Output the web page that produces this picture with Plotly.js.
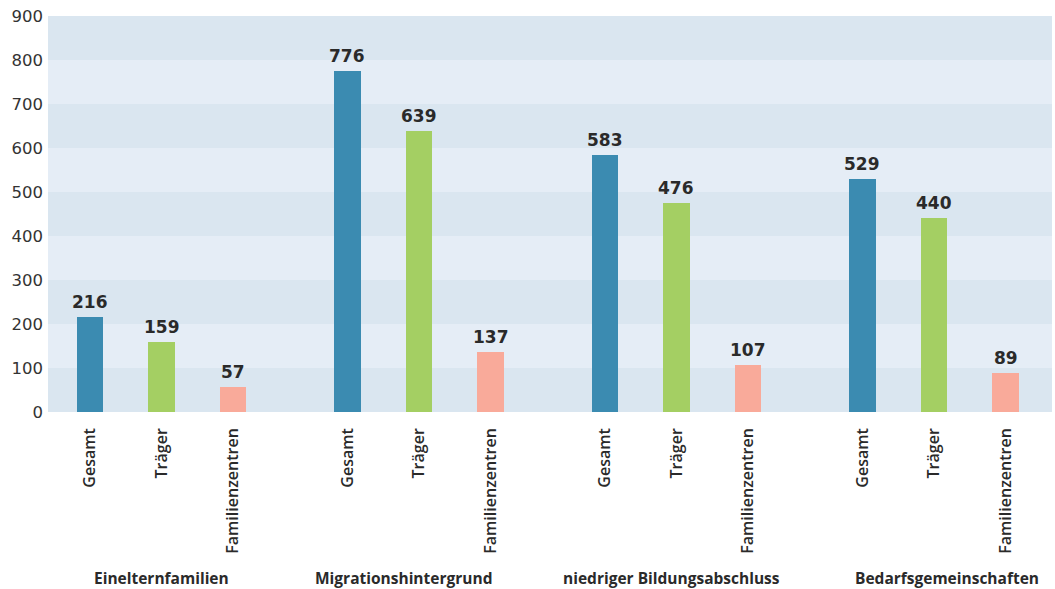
<!DOCTYPE html>
<html>
<head>
<meta charset="utf-8">
<script src="https://cdn.plot.ly/plotly-3.0.1.min.js"></script>
<style>html,body{margin:0;padding:0;background:#fff;}#chart{width:1055px;height:589px;}</style>
</head>
<body>
<div id="chart"></div>
<script>
const groups = ['Einelternfamilien', 'Migrationshintergrund', 'niedriger Bildungsabschluss', 'Bedarfsgemeinschaften'];
const seriesNames = ['Gesamt', 'Träger', 'Familienzentren'];
const gesamt = [216, 776, 583, 529];
const traeger = [159, 639, 476, 440];
const familienzentren = [57, 137, 107, 89];
const yTicks = [0, 100, 200, 300, 400, 500, 600, 700, 800, 900];

// layout-only tweaks (pixel offsets of the group labels)
const groupLabelShift = [0, -16, -5, 13];

const seriesValues = [gesamt, traeger, familienzentren];
const colors = ['#3b8bb1', '#a4cf63', '#f9aa9a'];
const groupStep = 3.6;
const FONT = 'Open Sans, Noto Sans, sans-serif';
const NUMFONT = 'DejaVu Sans, sans-serif';

const traces = [];
const annotations = [];
const tickvals = [];
const ticktext = [];
seriesValues.forEach((vals, s) => {
  const xs = groups.map((g, gi) => gi * groupStep + s);
  traces.push({
    type: 'bar', x: xs, y: vals, width: 0.365,
    marker: {color: colors[s]}, name: seriesNames[s], hoverinfo: 'skip'
  });
  xs.forEach((x, i) => {
    tickvals.push(x); ticktext.push(seriesNames[s]);
    annotations.push({
      x: x, y: vals[i], xref: 'x', yref: 'y', text: String(vals[i]),
      showarrow: false, yanchor: 'bottom', yshift: 3,
      font: {family: NUMFONT, size: 17, color: '#2a2a2a', weight: 700}
    });
  });
});
groups.forEach((g, gi) => {
  annotations.push({
    x: gi * groupStep + 1, y: 0, xref: 'x', yref: 'paper', yanchor: 'middle',
    yshift: -166, xshift: groupLabelShift[gi], text: g, showarrow: false,
    font: {family: FONT, size: 15.5, color: '#2a2a2a', weight: 700}
  });
});

const shapes = [];
for (let i = 0; i < yTicks.length - 1; i++) {
  shapes.push({
    type: 'rect', xref: 'paper', yref: 'y', x0: 0, x1: 1,
    y0: yTicks[i], y1: yTicks[i + 1], layer: 'below', line: {width: 0},
    fillcolor: i % 2 === 0 ? '#dae6f0' : '#e5edf6'
  });
}

const layout = {
  width: 1055, height: 589,
  margin: {l: 48, r: 3, t: 16, b: 177},
  paper_bgcolor: '#ffffff', plot_bgcolor: '#e5edf6',
  showlegend: false, bargap: 0,
  xaxis: {
    range: [-0.587, 13.45], tickvals: tickvals, ticktext: ticktext,
    tickangle: -90, showgrid: false, zeroline: false, showline: false,
    ticks: '', ticklabelstandoff: 12,
    tickfont: {family: FONT, size: 16, color: '#2a2a2a', weight: 600}
  },
  yaxis: {
    range: [0, 900], tickvals: yTicks, showgrid: false, zeroline: false,
    showline: false, ticks: '', ticklabelstandoff: 4,
    tickfont: {family: NUMFONT, size: 16.5, color: '#333333'}
  },
  shapes: shapes,
  annotations: annotations
};

Plotly.newPlot('chart', traces, layout, {displayModeBar: false, staticPlot: true});
</script>
</body>
</html>
